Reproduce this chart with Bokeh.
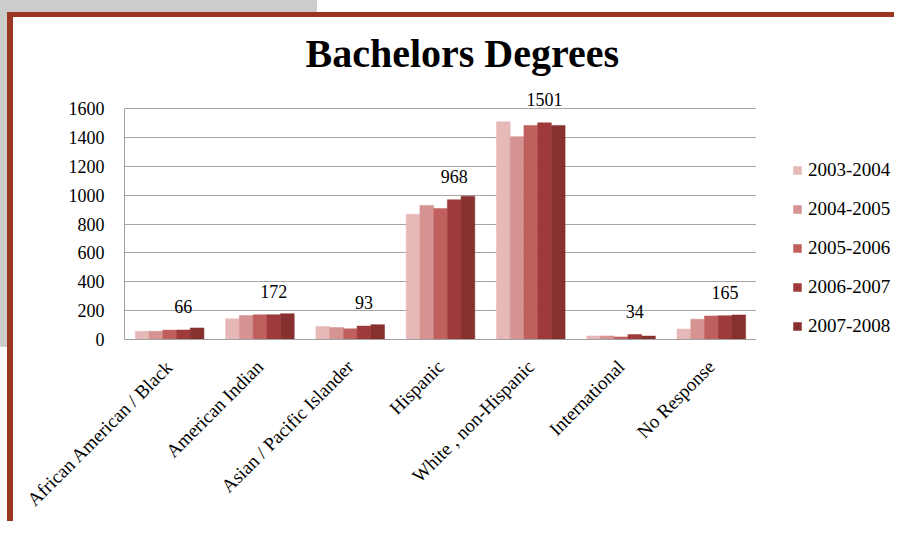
import math
from bokeh.plotting import figure
from bokeh.layouts import row
from bokeh.models import (FactorRange, ColumnDataSource, Legend, LegendItem, LabelSet,
                          FixedTicker, Range1d)
from bokeh.transform import dodge
from bokeh.embed import file_html
from bokeh.resources import INLINE
from bokeh.core.properties import value

# ---- data ----
categories = ["African American / Black", "American Indian", "Asian / Pacific Islander",
              "Hispanic", "White , non-Hispanic", "International", "No Response"]
years = ["2003-2004", "2004-2005", "2005-2006", "2006-2007", "2007-2008"]
v_2003_2004 = [57, 143, 90, 867, 1508, 25, 72]
v_2004_2005 = [57, 166, 83, 929, 1405, 25, 140]
v_2005_2006 = [65, 171, 74, 908, 1483, 18, 163]
v_2006_2007 = [66, 172, 93, 968, 1501, 34, 165]
v_2007_2008 = [80, 179, 103, 993, 1483, 24, 170]
y_ticks = [0, 200, 400, 600, 800, 1000, 1200, 1400, 1600]
labelled_series = "2006-2007"

series = [v_2003_2004, v_2004_2005, v_2005_2006, v_2006_2007, v_2007_2008]
colors = ["#E6B8B7", "#D59392", "#C0605E", "#9E3A3B", "#86302F"]
FONT = "Liberation Serif"
RED = "#993520"

data = {"cat": categories}
for y, vals in zip(years, series):
    data[y] = vals
data["lab"] = [str(v) for v in data[labelled_series]]
src = ColumnDataSource(data)

# slide decoration (grey corner + dark red frame) drawn as the layout's CSS background
bg = (f"linear-gradient({RED},{RED}) 7px 12px / 100% 5px no-repeat, "
      f"linear-gradient({RED},{RED}) 7px 12px / 6px 100% no-repeat, "
      "linear-gradient(#CCCCCC,#CCCCCC) 0px 0px / 317px 12px no-repeat, "
      "linear-gradient(#CCCCCC,#CCCCCC) 0px 0px / 7px 347px no-repeat, white")

# axis runs 0..1600; a little headroom above so the "1501" data label is not clipped
y_top = 1600 * 253 / 231

p = figure(width=756, height=521, x_range=FactorRange(*categories), y_range=Range1d(0, y_top),
           output_backend="svg", toolbar_location=None,
           min_border_left=124, min_border_right=0, min_border_top=86, min_border_bottom=182)
p.background_fill_color = "white"
p.border_fill_color = None
p.outline_line_color = None

w = 0.152
offsets = [-2 * w, -w, 0, w, 2 * w]
for y, c, off in zip(years, colors, offsets):
    p.vbar(x=dodge("cat", off, range=p.x_range), top=y, width=w, source=src,
           fill_color=c, line_color=c, line_width=0.5)

labels = LabelSet(x=dodge("cat", offsets[years.index(labelled_series)], range=p.x_range),
                  y=labelled_series, text="lab", source=src, text_align="center",
                  text_baseline="alphabetic", y_offset=17, text_font=value(FONT),
                  text_font_size="18px", text_color="black")
p.add_layout(labels)

p.title.text = "Bachelors Degrees"
p.title.text_font = FONT
p.title.text_font_style = "bold"
p.title.text_font_size = "40px"
p.title.text_color = "black"
p.title.align = "left"
p.title.offset = 181
p.title.standoff = 21

p.yaxis.ticker = FixedTicker(ticks=y_ticks)
p.yaxis.bounds = (0, 1600)
p.yaxis.major_label_text_font = FONT
p.yaxis.major_label_text_font_size = "18px"
p.yaxis.major_label_text_color = "black"
p.yaxis.major_label_standoff = 20
p.yaxis.major_tick_out = 0
p.yaxis.major_tick_in = 0
p.yaxis.axis_line_color = "#A0A0A0"
p.yaxis.major_tick_line_color = None
p.yaxis.minor_tick_line_color = None

p.xaxis.major_label_orientation = math.pi / 4
p.xaxis.major_label_text_font = FONT
p.xaxis.major_label_text_font_size = "19px"
p.xaxis.major_label_text_color = "black"
p.xaxis.major_label_standoff = 24
p.xaxis.major_tick_out = 0
p.xaxis.major_tick_in = 0
p.xaxis.axis_line_color = "#A0A0A0"
p.xaxis.major_tick_line_color = None
p.xaxis.minor_tick_line_color = None

p.xgrid.grid_line_color = None
p.ygrid.grid_line_color = "#A6A6A6"

# legend panel: a small companion figure whose (hidden) renderers carry the series styling
q = figure(width=138, height=521, x_range=FactorRange(*categories), y_range=Range1d(0, y_top),
           output_backend="svg", toolbar_location=None, x_axis_location=None, y_axis_location=None,
           min_border=0)
q.background_fill_color = None
q.border_fill_color = None
q.outline_line_color = None
q.grid.visible = False
items = []
for y, c in zip(years, colors):
    r = q.vbar(x="cat", top=y, width=w, source=src, fill_color=c, line_color=c,
               line_width=0.5, visible=False)
    items.append(LegendItem(label=y, renderers=[r]))
legend = Legend(items=items, location=(36, 2), glyph_width=10, glyph_height=10, label_standoff=6,
                spacing=17, padding=0, margin=0, border_line_color=None, background_fill_alpha=0,
                label_text_font=FONT, label_text_font_size="19px", label_height=20,
                label_text_color="black", inactive_fill_alpha=0)
q.add_layout(legend, "center")

layout = row(p, q, styles={"background": bg})

open("out.html", "w").write(file_html(layout, INLINE))
